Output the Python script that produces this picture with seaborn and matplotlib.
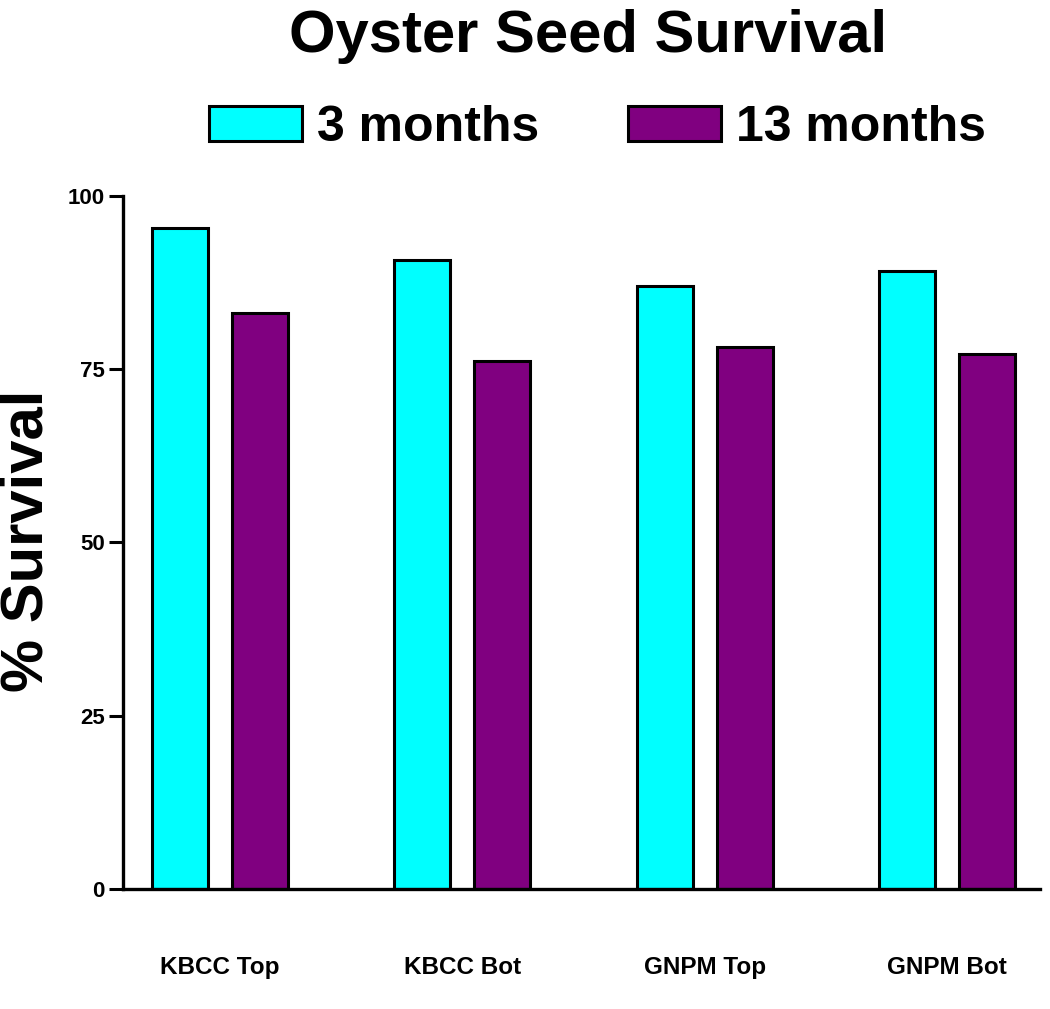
import pandas as pd
import matplotlib
matplotlib.use("Agg")
import matplotlib.pyplot as plt
from matplotlib.patches import Patch
import seaborn as sns

# Data
sites = ["KBCC Top", "KBCC Bot", "GNPM Top", "GNPM Bot"]
survival_3mo = [95.4, 90.8, 87.0, 89.2]
survival_13mo = [83.1, 76.2, 78.2, 77.2]
periods = ["3 months", "13 months"]
colors = ["#00FFFF", "#800080"]
yticks = [0, 25, 50, 75, 100]

df = pd.DataFrame({
    "Site": sites * 2,
    "Period": [periods[0]] * len(sites) + [periods[1]] * len(sites),
    "Survival": survival_3mo + survival_13mo,
})

sns.set_style("white")
plt.rcParams['font.family'] = ['Liberation Sans', 'DejaVu Sans']
for key in ['text.color', 'axes.labelcolor', 'xtick.color', 'ytick.color']:
    plt.rcParams[key] = 'black'

fig = plt.figure(figsize=(10.5, 10.09), dpi=100)
ax = fig.add_axes([0.117, 0.119, 0.873, 0.687])

sns.barplot(data=df, x="Site", y="Survival", hue="Period", order=sites, hue_order=periods,
            palette=colors, width=0.66, gap=0.3,
            edgecolor="black", linewidth=2.2, saturation=1, ax=ax, legend=False)

ax.set_xlim(-0.4, 3.38)
ax.set_ylim(0, 100)
ax.set_yticks(yticks)
ax.set_yticklabels([str(t) for t in yticks], fontsize=16, fontweight='bold')
ax.tick_params(axis='y', length=10, width=2.2, direction='out', left=True, pad=3)
ax.tick_params(axis='x', length=0, pad=48)
for lbl in ax.get_xticklabels():
    lbl.set_fontsize(17.5)
    lbl.set_fontweight('bold')
ax.set_xlabel("")
ax.set_ylabel("")
sns.despine(ax=ax)
for side in ["left", "bottom"]:
    ax.spines[side].set_linewidth(2.4)
    ax.spines[side].set_color("black")

fig.text(0.026, 1 - 541 / 1009, "% Survival", rotation=90, ha='center', va='center',
         fontsize=43, fontweight='bold')

fig.text(0.56, 1 - 52 / 1009, "Oyster Seed Survival", ha='center', va='baseline',
         fontsize=43, fontweight='bold')

# Legend drawn as a row above the axes
handles = [Patch(facecolor=c, edgecolor="black", linewidth=2.2) for c in colors]
fig.legend(handles, periods, loc='center', bbox_to_anchor=(0.569, 1 - 128 / 1009), ncol=2,
           frameon=False, prop={'weight': 'bold', 'size': 36},
           handlelength=1.86, handleheight=0.7, handletextpad=0.3, columnspacing=1.76)

fig.savefig("out.png", dpi=100)
